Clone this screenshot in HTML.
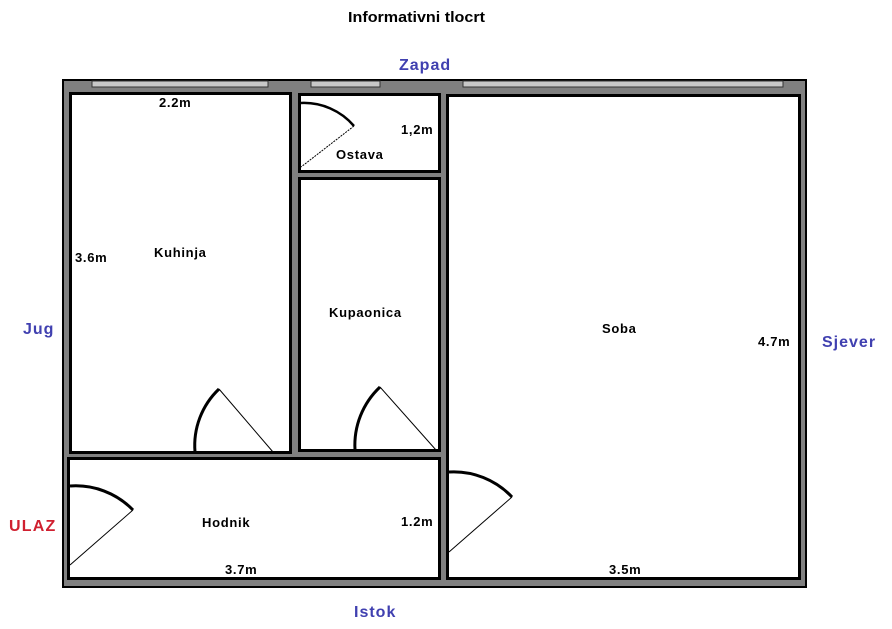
<!DOCTYPE html>
<html><head><meta charset="utf-8"><style>
html,body{margin:0;padding:0;background:#fff;}
svg{display:block;}
text{font-family:"Liberation Sans",sans-serif;font-weight:bold;}
</style></head><body>
<svg width="892" height="629" viewBox="0 0 892 629" xmlns="http://www.w3.org/2000/svg">
<text x="348" y="22" font-size="15" textLength="137" lengthAdjust="spacingAndGlyphs">Informativni tlocrt</text>
<rect x="63" y="80" width="743" height="507" fill="#808080" stroke="#000" stroke-width="2"/>
<rect x="92" y="81" width="176" height="6" fill="#c8c8c8" stroke="#333" stroke-width="1"/>
<rect x="311" y="81" width="69" height="6" fill="#c8c8c8" stroke="#333" stroke-width="1"/>
<rect x="463" y="81" width="320" height="6" fill="#c8c8c8" stroke="#333" stroke-width="1"/>
<g fill="#fff" stroke="#000" stroke-width="3">
<rect x="70.5" y="93.5" width="220" height="359"/>
<rect x="299.5" y="94.5" width="140" height="77"/>
<rect x="299.5" y="178.5" width="140" height="272"/>
<rect x="447.5" y="95.5" width="352" height="483"/>
<rect x="68.5" y="458.5" width="371" height="120"/>
</g>
<g fill="none" stroke="#000">
<path d="M195 452 A78 78 0 0 1 219 389" stroke-width="3"/>
<line x1="219" y1="389" x2="273" y2="452" stroke-width="1"/>
<path d="M355 450 A80 80 0 0 1 380 387" stroke-width="3"/>
<line x1="380" y1="387" x2="436" y2="450" stroke-width="1"/>
<path d="M70 486 A80 80 0 0 1 133 510" stroke-width="3"/>
<line x1="133" y1="510" x2="70" y2="565" stroke-width="1"/>
<path d="M449 472 A80 80 0 0 1 512 497" stroke-width="3"/>
<line x1="512" y1="497" x2="449" y2="552" stroke-width="1"/>
<path d="M301 103 A66 66 0 0 1 354 126" stroke-width="2.5"/>
<line x1="354" y1="126" x2="301" y2="167" stroke-width="1" stroke-dasharray="2,1"/>
</g>
<g font-size="13" fill="#000" letter-spacing="0.7">
<text x="159" y="107">2.2m</text>
<text x="401" y="134">1,2m</text>
<text x="336" y="159">Ostava</text>
<text x="75" y="262">3.6m</text>
<text x="154" y="257">Kuhinja</text>
<text x="329" y="317">Kupaonica</text>
<text x="602" y="333">Soba</text>
<text x="758" y="346">4.7m</text>
<text x="202" y="527">Hodnik</text>
<text x="401" y="526">1.2m</text>
<text x="225" y="574">3.7m</text>
<text x="609" y="574">3.5m</text>
</g>
<g font-size="16" fill="#4040b0" letter-spacing="1">
<text x="399" y="70">Zapad</text>
<text x="23" y="334">Jug</text>
<text x="822" y="347">Sjever</text>
<text x="354" y="617">Istok</text>
</g>
<text x="9" y="531" font-size="16" fill="#d02030" letter-spacing="1.2">ULAZ</text>
</svg>
</body></html>
